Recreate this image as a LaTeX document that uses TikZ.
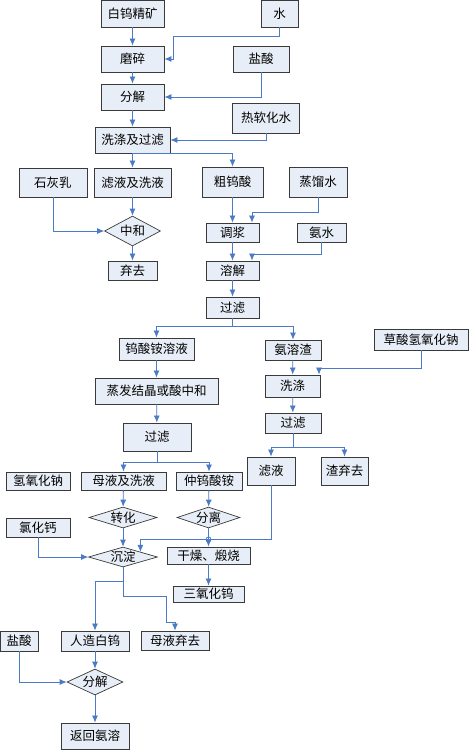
\documentclass[tikz,border=0pt]{standalone}
\usepackage{fontspec}
\newfontfamily\cjk{Noto Sans CJK SC}
\usepackage{tikz}
\usetikzlibrary{shapes.geometric, calc, arrows.meta}

\definecolor{boxfill}{HTML}{E8EEF7}
\definecolor{boxline}{HTML}{3A3A3A}
\definecolor{flowcol}{HTML}{4A7BC4}

\begin{document}
\begin{tikzpicture}[x=1pt, y=-1pt]
	\tikzstyle{box}=[rectangle, draw=boxline, line width=0.9pt, fill=boxfill,
		inner sep=0pt, font=\cjk\fontsize{12.5}{14}\selectfont]
	\tikzstyle{dia}=[box, diamond, aspect=3, line width=0.7pt]
	\tikzstyle{flow}=[->, >={Latex[length=7pt, width=6pt]}, draw=flowcol,
		line width=0.8pt]

	\useasboundingbox (0,0) rectangle (471,753);

	% main ore line
	\node[box, minimum width=63pt, minimum height=27pt] (bwjk) at (132.5,13.5) {白钨精矿};
	\node[box, minimum width=37pt, minimum height=27pt] (shui) at (279.5,13.5) {水};
	\node[box, minimum width=63pt, minimum height=26pt] (mosui) at (132.5,59) {磨碎};
	\node[box, minimum width=56pt, minimum height=26pt] (yansuan) at (261,59) {盐酸};
	\node[box, minimum width=63pt, minimum height=26pt] (fenjie) at (132.5,97) {分解};
	\node[box, minimum width=67pt, minimum height=30pt] (rrhs) at (266,118) {热软化水};
	\node[box, minimum width=75pt, minimum height=26pt] (xdgl) at (132.5,140) {洗涤及过滤};

	% filtrate and crude acid
	\node[box, minimum width=68pt, minimum height=29pt] (shihuiru) at (53,182.5) {石灰乳};
	\node[box, minimum width=77pt, minimum height=29pt] (lyxy) at (132.5,182.5) {滤液及洗液};
	\node[box, minimum width=61pt, minimum height=30pt] (cwsuan) at (232.5,182) {粗钨酸};
	\node[box, minimum width=58pt, minimum height=30pt] (zlshui) at (318,182) {蒸馏水};
	\node[dia, aspect=2, minimum width=56pt, minimum height=30pt] (zhonghe) at (132.5,231) {中和};
	\node[box, minimum width=49pt, minimum height=19pt] (qiqu) at (132.5,270.5) {弃去};
	\node[box, minimum width=53pt, minimum height=19pt] (tiaojiang) at (232.5,232.5) {调浆};
	\node[box, minimum width=49pt, minimum height=19pt] (anshui) at (321.5,232.5) {氨水};
	\node[box, minimum width=53pt, minimum height=19pt] (rongjie) at (232.5,270.5) {溶解};
	\node[box, minimum width=53pt, minimum height=21pt] (guolva) at (232.5,307.5) {过滤};

	% ammonium tungstate and residue
	\node[box, minimum width=75pt, minimum height=22pt] (wsayy) at (156.5,349) {钨酸铵溶液};
	\node[box, minimum width=56pt, minimum height=20pt] (arz) at (293,350) {氨溶渣};
	\node[box, minimum width=94pt, minimum height=21pt] (csqyhn) at (421,339.5) {草酸氢氧化钠};
	\node[box, minimum width=123pt, minimum height=26pt] (zfjj) at (156.5,391) {蒸发结晶或酸中和};
	\node[box, minimum width=55pt, minimum height=22pt] (xidi) at (292.5,386) {洗涤};
	\node[box, minimum width=56pt, minimum height=20pt] (guolvc) at (293,423) {过滤};
	\node[box, minimum width=68pt, minimum height=28pt] (guolvb) at (157,437) {过滤};
	\node[box, minimum width=48pt, minimum height=28pt] (lvye) at (271,471) {滤液};
	\node[box, minimum width=47pt, minimum height=28pt] (zhaqq) at (344.5,471) {渣弃去};

	% mother liquor and APT
	\node[box, minimum width=64pt, minimum height=18pt] (qyhn) at (38,481) {氢氧化钠};
	\node[box, minimum width=85pt, minimum height=18pt] (myxy) at (123.5,481) {母液及洗液};
	\node[box, minimum width=66pt, minimum height=18pt] (zwsa) at (209,481) {仲钨酸铵};
	\node[dia, minimum width=68pt, minimum height=21pt] (zhuanhua) at (123,517.5) {转化};
	\node[dia, minimum width=63pt, minimum height=21pt] (fenli) at (208.5,517.5) {分离};
	\node[box, minimum width=64pt, minimum height=19pt] (lhg) at (38,527.5) {氯化钙};
	\node[dia, minimum width=69pt, minimum height=20pt] (chendian) at (123,557) {沉淀};
	\node[box, minimum width=83pt, minimum height=17pt] (gzds) at (208.5,555.5) {干燥、煅烧};
	\node[box, minimum width=71pt, minimum height=16pt] (syhw) at (208.5,594) {三氧化钨};

	% artificial scheelite
	\node[box, minimum width=38pt, minimum height=20pt] (yansuanb) at (19,641) {盐酸};
	\node[box, minimum width=68pt, minimum height=20pt] (rzbw) at (95,641) {人造白钨};
	\node[box, minimum width=68pt, minimum height=19pt] (myqq) at (175,640.5) {母液弃去};
	\node[dia, aspect=2, minimum width=56pt, minimum height=26pt] (fenjieb) at (95,682) {分解};
	\node[box, minimum width=68pt, minimum height=26pt] (fhar) at (95,736) {返回氨溶};

	\coordinate (shuiturn) at (173,36);
	\coordinate (zlturn) at (252,212);
	\coordinate (asturn) at (252,254);
	\coordinate (lvturn) at ($(lvye.south)+(0,54)$);

	\draw[flow] (bwjk) -- (mosui);
	\draw[flow] (shui.south) |- (shuiturn) |- (mosui.east);
	\draw[flow] (mosui) -- (fenjie);
	\draw[flow] (yansuan.south) |- (fenjie.east);
	\draw[flow] (fenjie) -- (xdgl);
	\draw[flow] (rrhs.south) |- (xdgl.east);
	\draw[flow] (xdgl) -- (lyxy);
	\draw[flow] (xdgl.south) -| (cwsuan.north);
	\draw[flow] (lyxy) -- (zhonghe);
	\draw[flow] (shihuiru.south) |- (zhonghe.west);
	\draw[flow] (zhonghe) -- (qiqu);
	\draw[flow] (cwsuan) -- (tiaojiang);
	\draw[flow] (zlshui.south) |- (zlturn) -- (zlturn |- tiaojiang.north);
	\draw[flow] (anshui.south) |- (asturn) -- (asturn |- rongjie.north);
	\draw[flow] (tiaojiang) -- (rongjie);
	\draw[flow] (rongjie) -- (guolva);
	\draw[flow] (guolva.south) -- ++(0,8) -| (wsayy.north);
	\draw[flow] (guolva.south) -- ++(0,8) -| (arz.north);
	\draw[flow] (wsayy) -- (zfjj);
	\draw[flow] (zfjj) -- (guolvb);
	\draw[flow] (arz) -- (xidi);
	\draw[flow] (csqyhn.south) -- ++(0,18) -| ($(xidi.north)+(26.5,0)$);
	\draw[flow] (xidi) -- (guolvc);
	\draw[flow] (guolvc.south) -- ++(0,14) -| (lvye.north);
	\draw[flow] (guolvc.south) -- ++(0,14) -| (zhaqq.north);
	\draw[flow] (guolvb.south) -- ++(0,11) -| (myxy.north);
	\draw[flow] (guolvb.south) -- ++(0,11) -| (zwsa.north);
	\draw[flow] (myxy) -- (zhuanhua);
	\draw[flow] (zhuanhua) -- (chendian);
	\draw[flow] (zwsa) -- (fenli);
	\draw[flow] (fenli.south) -- (fenli.south |- gzds.north);
	\draw[flow] (lvye.south) -- (lvturn) -| (chendian.north east);
	\draw[flow, -] (fenli.south |- lvturn) circle (2.5pt);
	\draw[flow] (lhg.south) |- (chendian.west);
	\draw[flow] (gzds) -- (syhw);
	\draw[flow] (chendian.south) -- ++(0,14) -| (rzbw.north);
	\draw[flow] (chendian.south) -- ++(0,29) -| ++(43,26) -| (myqq.north);
	\draw[flow] (rzbw) -- (fenjieb);
	\draw[flow] (yansuanb.south) |- (fenjieb.west);
	\draw[flow] (fenjieb) -- (fhar);
\end{tikzpicture}
\end{document}
